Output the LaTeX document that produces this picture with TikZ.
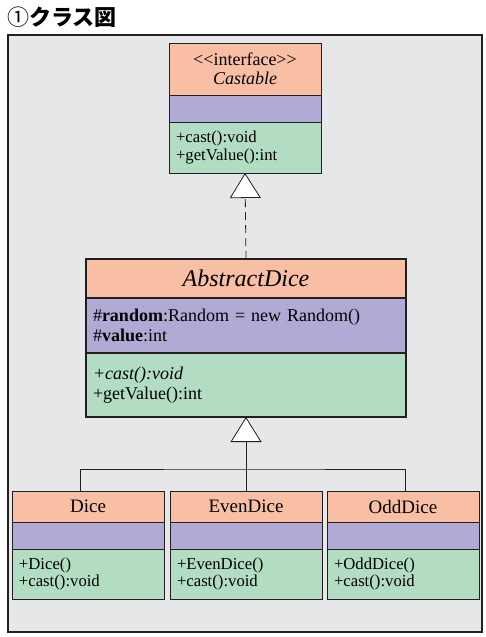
\documentclass[tikz,border=0pt]{standalone}
\usepackage{fontspec}
\usepackage{tikz}
\usetikzlibrary{arrows.meta, positioning, calc}

\newfontfamily\umlfont{Liberation Serif}
\newfontfamily\titlefont{Noto Sans CJK JP}

\definecolor{hdrcol}{HTML}{F9BFA5}
\definecolor{attrcol}{HTML}{B0AAD5}
\definecolor{methcol}{HTML}{B3DDC2}
\definecolor{bgcol}{HTML}{E6E7E9}
\definecolor{lncol}{HTML}{231F20}

\begin{document}
\begin{tikzpicture}[
        x=1pt, y=-1pt,
        comp/.style={draw=lncol, rectangle, inner sep=0pt, outer sep=0pt, line width=0.8pt},
        hdr/.style={comp, fill=hdrcol, align=center},
        attr/.style={comp, fill=attrcol, align=left, inner xsep=7pt},
        meth/.style={comp, fill=methcol, align=left, inner xsep=7pt},
        bigcomp/.style={line width=2pt},
        gen/.style={draw=lncol, line width=0.8pt, -{Triangle[fill=white, length=25pt, width=31pt]}},
        smallhdr/.style={font=\umlfont\fontsize{19}{20}\selectfont},
        smallbody/.style={font=\umlfont\fontsize{16.7}{17.5}\selectfont},
    ]
    \useasboundingbox (0,0) rectangle (486,637);

    % title and frame
    \node[anchor=west, inner sep=0pt, font=\titlefont\fontsize{22}{22}\selectfont] (title) at (7,17) {①\textbf{クラス図}};
    \draw[draw=lncol, fill=bgcol, line width=1.3pt] (8,35) rectangle (482,632);

    % interface Castable
    \node[hdr, minimum width=152pt, minimum height=52pt, font=\umlfont\fontsize{18}{19}\selectfont]
        (cast-h) at (245,69) {<{}<interface>{}>\\\textit{Castable}};
    \node[attr, minimum width=152pt, minimum height=27pt, below=0pt of cast-h] (cast-a) {};
    \node[meth, minimum width=152pt, minimum height=51pt, text width=138pt, below=0pt of cast-a, smallbody]
        (cast-m) {+cast():void\\+getValue():int};

    % abstract class AbstractDice
    \node[hdr, bigcomp, minimum width=320pt, minimum height=39pt, font=\umlfont\fontsize{24}{26}\selectfont]
        (abs-h) at (246,278.5) {\textit{AbstractDice}};
    \node[attr, bigcomp, minimum width=320pt, minimum height=55pt, text width=306pt, below=0pt of abs-h,
        font=\umlfont\fontsize{18}{20.5}\selectfont]
        (abs-a) {\#\textbf{random}:Random = new Random()\\\#\textbf{value}:int};
    \node[meth, bigcomp, minimum width=320pt, minimum height=64pt, text width=306pt, below=0pt of abs-a,
        font=\umlfont\fontsize{18}{20.5}\selectfont]
        (abs-m) {\textit{+cast():void}\\+getValue():int};

    % concrete classes
    \foreach \cls/\cx/\name in {dice/88/Dice, even/246/EvenDice, odd/403/OddDice} {
        \node[hdr, minimum width=152pt, minimum height=31pt, smallhdr] (\cls-h) at (\cx,506.5) {\name};
        \node[attr, minimum width=152pt, minimum height=27pt, below=0pt of \cls-h] (\cls-a) {};
        \node[meth, minimum width=152pt, minimum height=50pt, text width=138pt, below=0pt of \cls-a, smallbody]
            (\cls-m) {+\name()\\+cast():void};
    }

    % realization and generalization
    \draw[gen, dash pattern=on 8pt off 5pt] (abs-h.north) -- (cast-m.south);
    \draw[gen] (even-h.north) -- (abs-m.south);
    \draw[draw=lncol, line width=0.8pt] ([xshift=-8pt]dice-h.north) |- ([yshift=22pt]even-h.north) -| ([xshift=2pt]odd-h.north);
\end{tikzpicture}
\end{document}
